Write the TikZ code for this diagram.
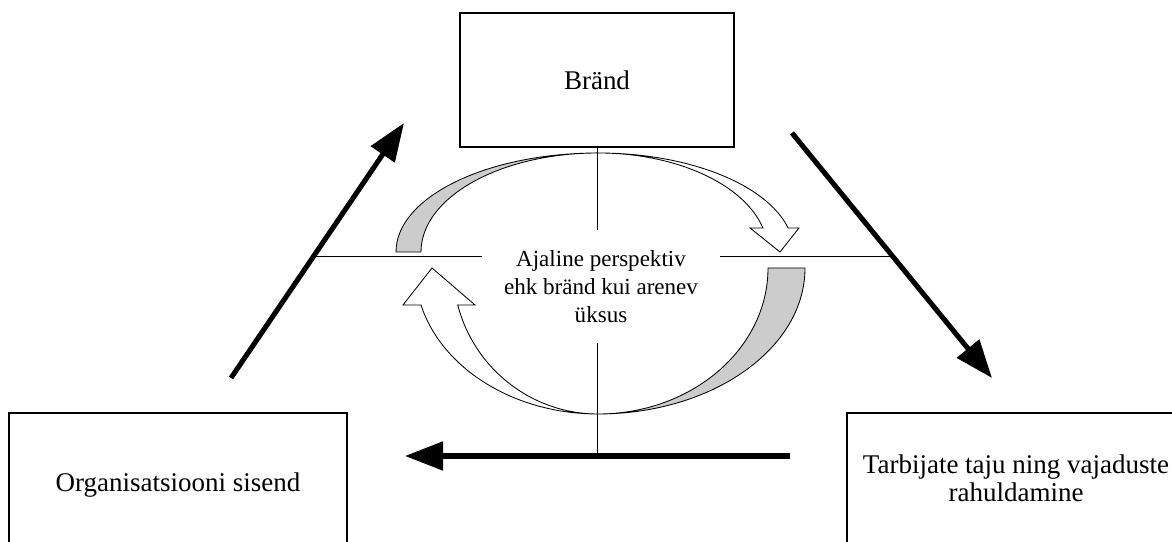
\documentclass[tikz,border=0pt]{standalone}
\usepackage{fontspec}
\setmainfont{Liberation Serif}
\usetikzlibrary{arrows.meta}

\tikzset{
  box/.style={draw, line width=0.9pt, align=center, font=\fontsize{19.2}{20}\selectfont},
  flow/.style={line width=3.6pt, -{Triangle[length=0.95cm,width=0.7cm]}},
  band/.style={draw, line width=0.6pt},
  axis/.style={line width=0.7pt}
}

\begin{document}
\begin{tikzpicture}
\clip (0,0) rectangle (29.3,13.55);
\node[box, minimum width=6.85cm, minimum height=3.35cm] (brand) at (14.925,11.55) {Bränd};
\node[box, minimum width=8.45cm, minimum height=3.6cm] (sisend) at (4.45,1.425) {Organisatsiooni sisend};
\node[box, minimum width=8.45cm, minimum height=3.25cm] (tarbija) at (25.4,1.6) {Tarbijate taju ning vajaduste\\rahuldamine};

\coordinate (hl) at (7.82,7.125);
\coordinate (hr) at (22.3,7.125);
\coordinate (a1) at (5.775,4.1);
\coordinate (a2) at (10.1,10.475);
\coordinate (b1) at (19.8,10.225);
\coordinate (b2) at (24.8,4.1);
\coordinate (c1) at (19.75,2.15);
\coordinate (c2) at (10.125,2.15);

% ring of arrows
\draw[band, fill=gray!40] (9.9,7.25) arc[start angle=180, end angle=90, x radius=5.05, y radius=2.475]
  arc[start angle=90, end angle=180, x radius=4.425, y radius=2.475] -- cycle;
\draw[band, fill=white] (14.95,9.725) arc[start angle=90, end angle=14.03, x radius=4.9, y radius=2.475]
  -- (19.975,7.85) -- (19.5,7.25) -- (18.75,7.85) -- (19.073,7.85)
  arc[start angle=14.03, end angle=90, x radius=4.25, y radius=2.475] -- cycle;
\draw[band, fill=gray!40] (20.125,6.85) -- (19.2,6.85) arc[start angle=0, end angle=-90, x radius=4.25, y radius=3.65]
  arc[start angle=-90, end angle=0, x radius=5.175, y radius=3.65] -- cycle;
\draw[band, fill=white] (14.95,3.2) arc[start angle=270, end angle=194.68, x radius=4.575, y radius=3.65]
  -- (10.075,5.925) -- (10.8,6.85) -- (11.875,5.925) -- (11.443,5.925)
  arc[start angle=194.68, end angle=270, x radius=3.625, y radius=3.65] -- cycle;

\draw[axis] (hl) -- (hr);
\draw[axis] (brand.south) -- (brand.south |- c1);

\node[fill=white, align=center, font=\fontsize{16.4}{19.9}\selectfont, minimum width=5.95cm, minimum height=2.825cm] (aeg) at (15.025,6.39) {Ajaline perspektiv\\ehk bränd kui arenev\\üksus};

\draw[flow] (a1) -- (a2);
\draw[flow] (b1) -- (b2);
\draw[flow] (c1) -- (c2);
\end{tikzpicture}
\end{document}
